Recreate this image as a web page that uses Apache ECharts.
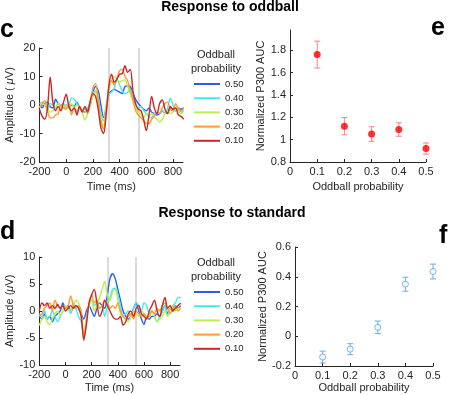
<!DOCTYPE html>
<html>
<head>
<meta charset="utf-8">
<script src="https://cdn.jsdelivr.net/npm/echarts@6/dist/echarts.min.js"></script>
<style>
  body { margin: 0; background: #fff; }
  #chart { width: 450px; height: 395px; }
</style>
</head>
<body>
<div id="chart"></div>
<script>
// time axis (ms) shared by both waveform panels
var times = [-200, -180, -160, -140, -120, -100, -80, -60, -40, -20, 0, 20, 40, 60, 80, 100, 120, 140, 160, 180,
  200, 220, 240, 260, 280, 300, 320, 340, 360, 380, 400, 420, 440, 460, 480, 500, 520, 540, 560, 580,
  600, 620, 640, 660, 680, 700, 720, 740, 760, 780, 800, 820, 840, 860, 880];

var probNames = ['0.50', '0.40', '0.30', '0.20', '0.10'];
var probColors = ['#2a5cf0', '#3feeee', '#bdee4c', '#ff9a30', '#cc2626'];
var windowLines = [320, 540];

// response to oddball (uV)
var odd50 = [0, -1, 0.5, 1, -0.5, -1, 2, 0.5, 0, -1, 0, -1, 0, -0.5, 1, -1, -2, -2.5, -1.5, 0,
  4.5, 6.5, 5, 0, -4.4, -1, 4, 5, 5.5, 5, 4.5, 4, 6.5, 6.7, 6.5, 4, 2, 0.5, -0.5, -1.5,
  -2, -1, -2.5, -3, -3.5, -3, -2, -3, -2.5, -1, -1.5, -2, -1, -1.5, -1];
var odd40 = [0.5, 1, 0, -2, 0.5, 0, -1, 0.5, 0, 0.5, -1, 0, 2.5, 2, 0.5, -1, -2, -2.5, -1, 1,
  4, 5, 2, -3, -5.5, 0, 3.5, 4.5, 6, 9, 7, 5, 4, 4.5, 5.5, 3, 0, -1, -0.5, -2,
  -3, -4, -4.5, -3, -2.5, -3, -2, -3, -1, 2.4, 0, -2, -1, -2.5, -1.5];
var odd30 = [-1, 0.5, 0, -1, -2.5, -2, -1, 0.5, -0.5, -1, 0, -1, 0.5, -1, 0, -1, -2.5, -5.3, -3, 0,
  3, 4.5, 0, -4, -7.5, -1, 5, 9, 10, 9, 8, 8.5, 8.8, 6.5, 4, 1, -1, -2.5, -3.5, -4.5,
  -3, -4, -3, -4, -5, -5.9, -5, -3, -2, -3, -2.5, -1, -2, -3, -2];
var odd20 = [-1, 0.5, 1.5, -2, -4.5, -4.5, -3.5, -3, 0, -1, -1.5, 0.5, -3.5, -1, -2.5, -0.5, -2, -1, -3, 0.5,
  6, 7.5, 2, -6, -8.5, -2, 6, 8.5, 7, 9.5, 12, 12.5, 10, 8.5, 5, 2, -2, -3.5, -4.5, -5.5,
  -6.5, -6.5, -5, -4, -2.5, -3, -1, 0.5, 1, -1.5, -2, 0.5, -1.5, -2, -1];
var odd10 = [-1.5, -4, -5, -1, 9.8, 1, -2, -0.5, -2, 1, 3.8, -0.5, -2, -1, -3.5, -0.5, -2.5, -0.5, -2.5, 1.5,
  4, 3, -1.5, -8, -10, -3, 7, 10.8, 8, 9, 10.8, 11, 13.8, 11.5, 12.5, 5, 0.5, -1.5, -2, -5,
  -9, -3.5, 3, -1, -3, 0.5, 1.8, -1.5, -3, -0.5, -1.5, -1, -3.5, -4, -5];

// response to standard (uV)
var std50 = [-1, -1.5, -0.5, -1.5, -1, -2, -1, -0.5, 0, 1.5, 0.5, 1, 0, 0.5, 1, 0.5, -0.5, -1.5, 0, 1,
  0, -1, 0.5, 1.5, 1, 0.5, 3, 6, 6.9, 6, 4, 2, 0, -1, -1.5, -1, 0.5, 1.5, 0, -1.5,
  -2.5, -1, -1.5, -1, -1, -0.5, -1, 0, 1, -0.5, 0.5, 0, 1, 0.5, 1];
var std40 = [-0.5, -1, 0, -1.5, -1, 0, -1, -2, -1, 0, 1, 0.5, -0.5, 1.5, 0.5, -1, -2, -4, -1.5, 1,
  2, 1, 1.5, 0.5, 1, -1, 1, 2.5, 4, 4.2, 3, 1, -1, -0.5, 0, -1, 0.5, 1.5, 1, 0,
  1.5, 1, -0.5, 0, -1, -2, -1, 0, 1, -1, 0.5, 1, 1.5, 2.5, 2.5];
var std30 = [-2.7, -1.5, -1, -2, -2.5, -1.5, -0.5, 0, -1, 0, 1, 0.5, 0, 1, 2, 1.5, -1, -4.5, -1.5, 1,
  2, 0, 1, 2.5, 4, 5.5, 3, 2, 3.5, 4, 2, -0.5, -1, -1.5, -2, -1, 0, -0.5, -1, 0,
  -0.5, -1.5, -1, 0, -1, -2, -1.5, -1, 0, -1, 0.5, 1, 0, 0.5, 0.5];
var std20 = [-1, -0.5, 0.5, 1, 1.5, 0, 2, 1, 0.5, 1, 0.5, 1, 2.8, 1, 0.5, 1, 0, -5.5, -2, 1.5,
  3, 1.5, 2, 0.5, 1, 2, 1.5, 0.5, 1, 0.5, 1.5, 0, -1, -1.5, -1, -0.5, -1.5, 0, -0.5, -1,
  -0.5, -1, -1, 0, -0.5, 0.5, 0, 1, 1.5, 0.5, -0.5, 0.5, 1, 0, 0.5];
var std10 = [0, 1.5, 1, 1.5, 0.5, 1, 0.5, 1.2, 0.5, 1, 0, 0.5, 1, 0.5, 1, 0.5, -1, -5.3, -2.5, 1.5,
  3, 4, 1.5, -1, 0, 2, 1, 0, -1, -1.5, -1.5, -1, -2.6, -2, -0.5, 0, -1, 0.5, 1, -0.5,
  -1, -1.5, 0, 1, 2, 0, -1, 1, 2.5, 0.5, 1, 0, 0.5, 1, 1.5];

// normalized P300 AUC vs oddball probability
var probs = [0.1, 0.2, 0.3, 0.4, 0.5];
var aucOdd = [1.76, 1.12, 1.05, 1.09, 0.92];
var errOdd = [0.12, 0.077, 0.065, 0.06, 0.05];
var aucStd = [-0.14, -0.087, 0.06, 0.35, 0.435];
var errStd = [0.04, 0.037, 0.042, 0.047, 0.05];

var timeTicks = [-200, 0, 200, 400, 600, 800];
var oddTicks = [0.8, 1, 1.2, 1.4, 1.6, 1.8];
var txt = '#262626';
var font = 'Liberation Sans, Arial, sans-serif';

function pairs(xs, ys) {
    var out = [];
    for (var i = 0; i < ys.length; i++) {
        out.push([xs[i], ys[i]]);
    }
    return out;
}

function bars(xs, ys, es) {
    var out = [];
    for (var i = 0; i < ys.length; i++) {
        out.push([xs[i], ys[i] - es[i], ys[i] + es[i]]);
    }
    return out;
}

function axis(idx, opts) {
    var a = {
        gridIndex: idx,
        type: 'value',
        nameLocation: 'middle',
        nameTextStyle: {color: txt, fontSize: 11, fontFamily: font},
        axisLine: {show: true, onZero: false, lineStyle: {color: txt, width: 1}},
        axisTick: {show: true, inside: true, length: 3, lineStyle: {color: txt}},
        axisLabel: {color: txt, fontSize: 11, fontFamily: font, margin: 4},
        splitLine: {show: false}
    };
    for (var k in opts) {
        if (typeof opts[k] === 'object' && a[k] && !Array.isArray(opts[k])) {
            for (var j in opts[k]) a[k][j] = opts[k][j];
        } else {
            a[k] = opts[k];
        }
    }
    return a;
}

function waveSeries(axisIdx, arrays) {
    var list = [];
    for (var i = 0; i < arrays.length; i++) {
        var s = {
            name: probNames[i],
            type: 'line',
            xAxisIndex: axisIdx,
            yAxisIndex: axisIdx,
            data: pairs(times, arrays[i]),
            showSymbol: false,
            smooth: 0.3,
            clip: true,
            lineStyle: {color: probColors[i], width: 1.4},
            itemStyle: {color: probColors[i]}
        };
        if (i === 0) {
            s.markLine = {
                silent: true,
                symbol: 'none',
                z: 1,
                label: {show: false},
                lineStyle: {color: '#d2d2d2', width: 1.6, type: 'solid'},
                data: windowLines.map(function (v) { return {xAxis: v}; })
            };
        }
        list.push(s);
    }
    return list;
}

function errorBar(color) {
    return function (params, api) {
        var x = api.value(0);
        var lo = api.coord([x, api.value(1)]);
        var hi = api.coord([x, api.value(2)]);
        var w = 3;
        var st = {stroke: color, lineWidth: 1};
        return {
            type: 'group',
            children: [
                {type: 'line', shape: {x1: hi[0], y1: hi[1], x2: lo[0], y2: lo[1]}, style: st},
                {type: 'line', shape: {x1: hi[0] - w, y1: hi[1], x2: hi[0] + w, y2: hi[1]}, style: st},
                {type: 'line', shape: {x1: lo[0] - w, y1: lo[1], x2: lo[0] + w, y2: lo[1]}, style: st}
            ]
        };
    };
}

function legendAt(top) {
    return {
        left: 194, top: top, orient: 'vertical', padding: 0,
        itemWidth: 26, itemHeight: 2, itemGap: 4.2, icon: 'rect',
        selectedMode: false,
        textStyle: {color: txt, fontSize: 9.5, lineHeight: 10, fontFamily: font},
        data: probNames
    };
}

function label(text, x, y, size, bold, align) {
    return {
        type: 'text', x: x, y: y, silent: true,
        style: {
            text: text, fill: bold ? '#000' : txt,
            font: (bold ? 'bold ' : '') + size + 'px ' + font,
            textAlign: align || 'center', textVerticalAlign: 'middle'
        }
    };
}

var chart = echarts.init(document.getElementById('chart'));

var option = {
    animation: false,
    backgroundColor: '#fff',
    textStyle: {fontFamily: font},
    grid: [
        {left: 39.5, top: 48, width: 143.5, height: 114},
        {left: 290, top: 30, width: 136, height: 132},
        {left: 39.3, top: 257, width: 140.7, height: 108},
        {left: 295, top: 247, width: 138, height: 119}
    ],
    xAxis: [
        axis(0, {min: -200, max: 875, name: 'Time (ms)', nameGap: 19,
            axisLabel: {customValues: timeTicks}, axisTick: {customValues: timeTicks}}),
        axis(1, {min: 0, max: 0.5, interval: 0.1, name: 'Oddball probability', nameGap: 19}),
        axis(2, {min: -200, max: 875, name: 'Time (ms)', nameGap: 17,
            axisLabel: {customValues: timeTicks}, axisTick: {customValues: timeTicks}}),
        axis(3, {min: 0, max: 0.5, interval: 0.1, name: 'Oddball probability', nameGap: 16})
    ],
    yAxis: [
        axis(0, {min: -20, max: 20, interval: 10, nameGap: 21,
            name: '{n|Amplitude ( }{i|μ}{n|V)}',
            nameTextStyle: {rich: {n: {fontSize: 11, color: txt}, i: {fontSize: 11, color: txt, fontStyle: 'italic'}}}}),
        axis(1, {min: 0.8, max: 1.98, name: 'Normalized P300 AUC', nameGap: 19,
            axisLabel: {customValues: oddTicks}, axisTick: {customValues: oddTicks}}),
        axis(2, {min: -10, max: 10, interval: 5, nameGap: 21,
            name: '{n|Amplitude (}{i|μ}{n|V)}',
            nameTextStyle: {rich: {n: {fontSize: 11, color: txt}, i: {fontSize: 11, color: txt, fontStyle: 'italic'}}}}),
        axis(3, {min: -0.2, max: 0.6, interval: 0.2, name: 'Normalized P300 AUC', nameGap: 26})
    ],
    legend: [legendAt(79), legendAt(287)],
    graphic: [
        label('Response to oddball', 230, 7, 14, true),
        label('Response to standard', 232, 213, 14, true),
        label('c', 0, 30, 25, true, 'left'),
        label('e', 431, 28, 25, true, 'left'),
        label('d', 0, 232, 25, true, 'left'),
        label('f', 439, 236, 25, true, 'left'),
        label('Oddball', 216, 55, 11),
        label('probability', 216, 69, 11),
        label('Oddball', 216, 263, 11),
        label('probability', 216, 277, 11)
    ],
    series: []
        .concat(waveSeries(0, [odd50, odd40, odd30, odd20, odd10]))
        .concat(waveSeries(2, [std50, std40, std30, std20, std10]))
        .concat([
            {
                type: 'custom', xAxisIndex: 1, yAxisIndex: 1,
                renderItem: errorBar('#ff8080'),
                encode: {x: 0, y: [1, 2]},
                data: bars(probs, aucOdd, errOdd)
            },
            {
                type: 'scatter', xAxisIndex: 1, yAxisIndex: 1,
                symbol: 'circle', symbolSize: 7,
                itemStyle: {color: '#ff0000'},
                data: pairs(probs, aucOdd)
            },
            {
                type: 'custom', xAxisIndex: 3, yAxisIndex: 3,
                renderItem: errorBar('#6aaee0'),
                encode: {x: 0, y: [1, 2]},
                data: bars(probs, aucStd, errStd)
            },
            {
                type: 'scatter', xAxisIndex: 3, yAxisIndex: 3,
                symbol: 'circle', symbolSize: 6,
                itemStyle: {color: '#fff', borderColor: '#5aa2da', borderWidth: 1},
                data: pairs(probs, aucStd)
            }
        ])
};

chart.setOption(option);
</script>
</body>
</html>
